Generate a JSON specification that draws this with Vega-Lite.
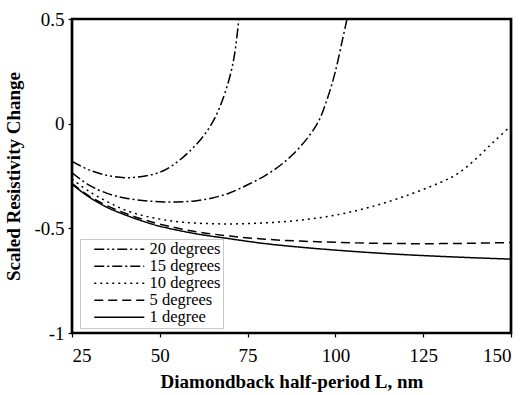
{
  "$schema": "https://vega.github.io/schema/vega-lite/v6.json",
  "width": 439,
  "height": 314,
  "autosize": {"type": "none"},
  "padding": {"left": 72, "top": 19, "right": 14, "bottom": 62},
  "background": "white",
  "config": {
    "view": {"stroke": "black", "strokeWidth": 2.7},
    "font": "Liberation Serif",
    "axis": {"grid": false, "domain": false, "tickColor": "black", "tickSize": 4, "tickWidth": 1.2, "labelColor": "black", "labelFont": "Liberation Serif", "labelFontSize": 19, "titleFont": "Liberation Serif", "titleFontWeight": "bold", "titleFontSize": 19, "titleColor": "black"}
  },
  "data": {"values": [
    {"L": 25, "v": -0.29, "deg": "1 degree"},
    {"L": 30, "v": -0.352, "deg": "1 degree"},
    {"L": 35, "v": -0.40, "deg": "1 degree"},
    {"L": 40, "v": -0.435, "deg": "1 degree"},
    {"L": 45, "v": -0.465, "deg": "1 degree"},
    {"L": 50, "v": -0.49, "deg": "1 degree"},
    {"L": 60, "v": -0.525, "deg": "1 degree"},
    {"L": 70, "v": -0.55, "deg": "1 degree"},
    {"L": 80, "v": -0.573, "deg": "1 degree"},
    {"L": 90, "v": -0.59, "deg": "1 degree"},
    {"L": 100, "v": -0.604, "deg": "1 degree"},
    {"L": 110, "v": -0.616, "deg": "1 degree"},
    {"L": 120, "v": -0.626, "deg": "1 degree"},
    {"L": 130, "v": -0.634, "deg": "1 degree"},
    {"L": 140, "v": -0.641, "deg": "1 degree"},
    {"L": 150, "v": -0.647, "deg": "1 degree"},
    {"L": 25, "v": -0.285, "deg": "5 degrees"},
    {"L": 30, "v": -0.347, "deg": "5 degrees"},
    {"L": 35, "v": -0.392, "deg": "5 degrees"},
    {"L": 40, "v": -0.427, "deg": "5 degrees"},
    {"L": 45, "v": -0.456, "deg": "5 degrees"},
    {"L": 50, "v": -0.48, "deg": "5 degrees"},
    {"L": 60, "v": -0.515, "deg": "5 degrees"},
    {"L": 70, "v": -0.537, "deg": "5 degrees"},
    {"L": 80, "v": -0.552, "deg": "5 degrees"},
    {"L": 90, "v": -0.561, "deg": "5 degrees"},
    {"L": 100, "v": -0.567, "deg": "5 degrees"},
    {"L": 110, "v": -0.571, "deg": "5 degrees"},
    {"L": 120, "v": -0.573, "deg": "5 degrees"},
    {"L": 130, "v": -0.573, "deg": "5 degrees"},
    {"L": 140, "v": -0.571, "deg": "5 degrees"},
    {"L": 150, "v": -0.568, "deg": "5 degrees"},
    {"L": 25, "v": -0.265, "deg": "10 degrees"},
    {"L": 30, "v": -0.325, "deg": "10 degrees"},
    {"L": 35, "v": -0.372, "deg": "10 degrees"},
    {"L": 40, "v": -0.412, "deg": "10 degrees"},
    {"L": 45, "v": -0.438, "deg": "10 degrees"},
    {"L": 50, "v": -0.456, "deg": "10 degrees"},
    {"L": 55, "v": -0.468, "deg": "10 degrees"},
    {"L": 60, "v": -0.475, "deg": "10 degrees"},
    {"L": 70, "v": -0.479, "deg": "10 degrees"},
    {"L": 80, "v": -0.474, "deg": "10 degrees"},
    {"L": 90, "v": -0.461, "deg": "10 degrees"},
    {"L": 100, "v": -0.437, "deg": "10 degrees"},
    {"L": 110, "v": -0.398, "deg": "10 degrees"},
    {"L": 120, "v": -0.345, "deg": "10 degrees"},
    {"L": 130, "v": -0.28, "deg": "10 degrees"},
    {"L": 135, "v": -0.237, "deg": "10 degrees"},
    {"L": 140, "v": -0.168, "deg": "10 degrees"},
    {"L": 145, "v": -0.088, "deg": "10 degrees"},
    {"L": 150, "v": -0.01, "deg": "10 degrees"},
    {"L": 25, "v": -0.235, "deg": "15 degrees"},
    {"L": 30, "v": -0.295, "deg": "15 degrees"},
    {"L": 35, "v": -0.333, "deg": "15 degrees"},
    {"L": 40, "v": -0.355, "deg": "15 degrees"},
    {"L": 45, "v": -0.367, "deg": "15 degrees"},
    {"L": 50, "v": -0.373, "deg": "15 degrees"},
    {"L": 55, "v": -0.374, "deg": "15 degrees"},
    {"L": 60, "v": -0.369, "deg": "15 degrees"},
    {"L": 65, "v": -0.355, "deg": "15 degrees"},
    {"L": 70, "v": -0.33, "deg": "15 degrees"},
    {"L": 75, "v": -0.292, "deg": "15 degrees"},
    {"L": 80, "v": -0.248, "deg": "15 degrees"},
    {"L": 85, "v": -0.19, "deg": "15 degrees"},
    {"L": 90, "v": -0.11, "deg": "15 degrees"},
    {"L": 95, "v": 0.005, "deg": "15 degrees"},
    {"L": 98, "v": 0.135, "deg": "15 degrees"},
    {"L": 100, "v": 0.25, "deg": "15 degrees"},
    {"L": 102, "v": 0.4, "deg": "15 degrees"},
    {"L": 103.3, "v": 0.5, "deg": "15 degrees"},
    {"L": 25, "v": -0.18, "deg": "20 degrees"},
    {"L": 30, "v": -0.222, "deg": "20 degrees"},
    {"L": 35, "v": -0.247, "deg": "20 degrees"},
    {"L": 40, "v": -0.258, "deg": "20 degrees"},
    {"L": 45, "v": -0.252, "deg": "20 degrees"},
    {"L": 50, "v": -0.232, "deg": "20 degrees"},
    {"L": 54, "v": -0.195, "deg": "20 degrees"},
    {"L": 58.6, "v": -0.13, "deg": "20 degrees"},
    {"L": 62.4, "v": -0.06, "deg": "20 degrees"},
    {"L": 65.2, "v": 0.012, "deg": "20 degrees"},
    {"L": 67.1, "v": 0.08, "deg": "20 degrees"},
    {"L": 69, "v": 0.17, "deg": "20 degrees"},
    {"L": 70.5, "v": 0.262, "deg": "20 degrees"},
    {"L": 71.5, "v": 0.355, "deg": "20 degrees"},
    {"L": 72.5, "v": 0.5, "deg": "20 degrees"}
  ]},
  "mark": {"type": "line", "color": "black", "strokeWidth": 1.5, "interpolate": "catmull-rom", "clip": true},
  "encoding": {
    "x": {"field": "L", "type": "quantitative", "scale": {"domain": [25, 150], "nice": false, "zero": false},
      "axis": {"values": [25, 50, 75, 100, 125, 150], "title": "Diamondback half-period L, nm", "labelPadding": 9, "titlePadding": 7}},
    "y": {"field": "v", "type": "quantitative", "scale": {"domain": [-1, 0.5], "nice": false, "zero": false},
      "axis": {"values": [-1, -0.5, 0, 0.5], "labelExpr": "'' + datum.value", "title": "Scaled Resistivity Change", "labelPadding": 4, "titlePadding": 10}},
    "strokeDash": {"field": "deg", "type": "nominal",
      "scale": {"domain": ["20 degrees", "15 degrees", "10 degrees", "5 degrees", "1 degree"],
        "range": [[10, 3, 2, 3, 2, 3], [10, 3, 2, 3], [2, 4], [9, 5], [1, 0]]},
      "legend": {"title": null, "orient": "none", "legendX": 8, "legendY": 220, "symbolType": "M0.8,0H10.8", "symbolSize": 100, "symbolStrokeColor": "black", "symbolStrokeWidth": 1.5, "labelFontSize": 16.5, "labelFont": "Liberation Serif", "labelColor": "black", "labelOffset": 51, "labelExpr": "datum.label + '\u00a0\u00a0\u00a0\u00a0\u00a0'", "strokeColor": "#c8c8c8", "padding": 2, "rowPadding": 0, "fillColor": "white"}}
  }
}
